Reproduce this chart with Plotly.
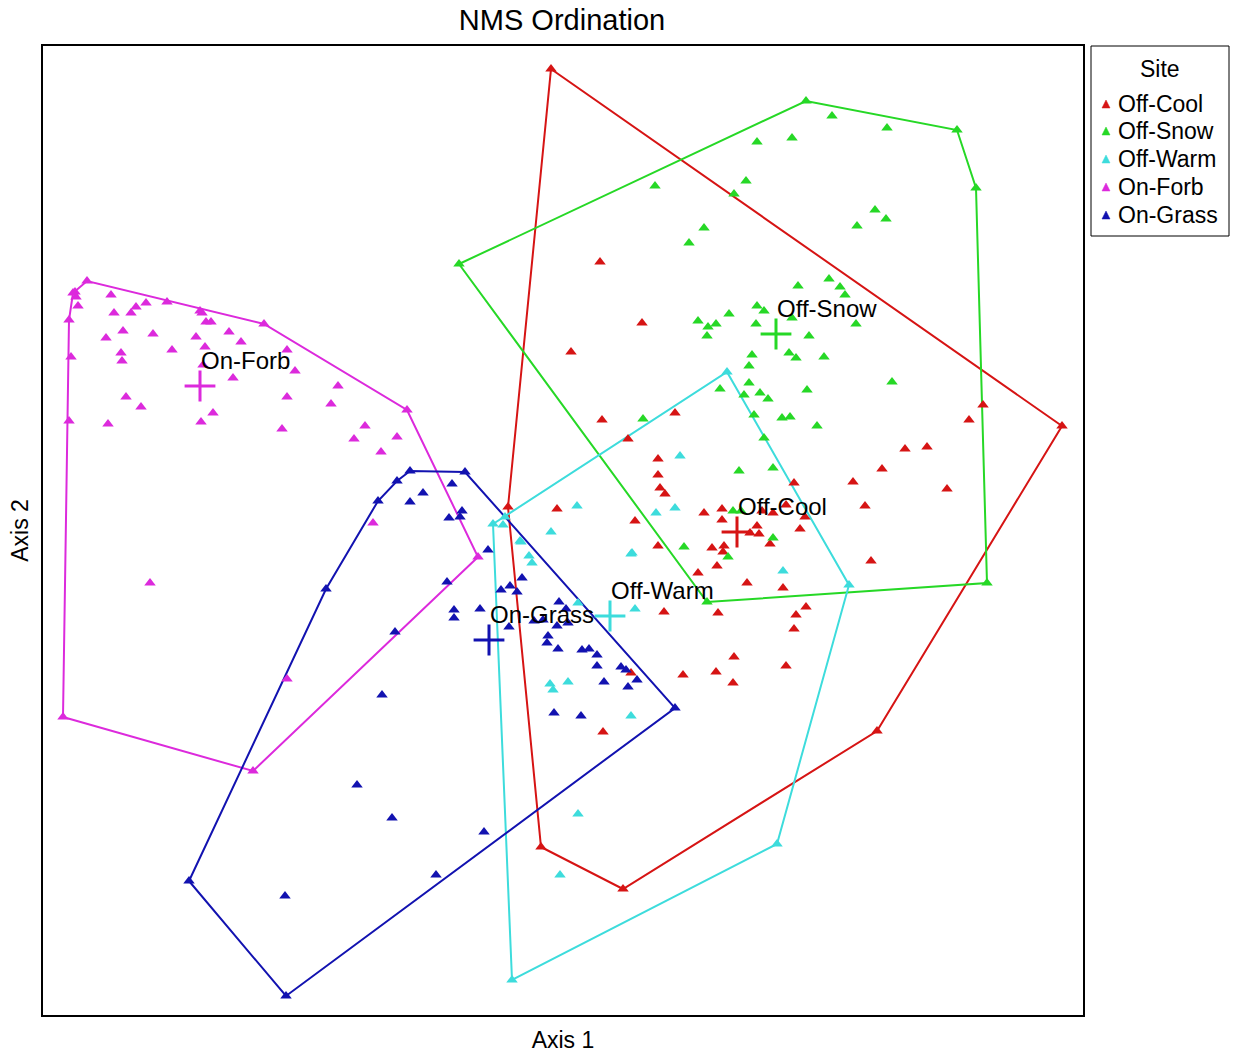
import plotly.graph_objects as go

# ---- data (Axis 1, Axis 2 scores) ----
sites = ["Off-Cool", "Off-Snow", "Off-Warm", "On-Forb", "On-Grass"]
colors = ["#d61414", "#26d826", "#3ddcdc", "#dc2adc", "#1212b0"]

off_cool_x = [551, 1062, 877, 623, 541, 508, 600, 642, 571, 602, 675, 628, 658, 658, 660, 665, 557, 635,
              704, 722, 722, 757, 759, 750, 762, 773, 786, 794, 805, 800, 770, 658, 712, 724, 723, 717,
              698, 747, 783, 983, 969, 905, 927, 882, 853, 947, 865, 871, 806, 718, 796, 794, 664, 734,
              786, 716, 733, 683, 631, 603]
off_cool_y = [69, 426, 731, 889, 847, 507, 262, 323, 352, 420, 413, 439, 459, 475, 488, 494, 509, 521,
              513, 509, 520, 526, 534, 533, 511, 513, 505, 483, 517, 529, 544, 546, 548, 546, 552, 566,
              573, 583, 588, 405, 420, 449, 447, 469, 482, 489, 506, 561, 607, 613, 615, 629, 612, 657,
              666, 672, 683, 675, 673, 732]

off_snow_x = [459, 806, 957, 976, 987, 707, 757, 792, 655, 746, 734, 704, 689, 832, 887, 875, 886, 857,
              798, 829, 840, 845, 856, 809, 792, 757, 764, 729, 698, 708, 716, 707, 756, 789, 752, 796,
              824, 749, 749, 760, 744, 768, 754, 782, 790, 764, 720, 892, 807, 817, 739, 773, 733, 741,
              773, 684, 728, 643]
off_snow_y = [264, 101, 130, 188, 583, 602, 142, 138, 186, 181, 194, 228, 243, 116, 128, 210, 219, 226,
              286, 279, 287, 295, 324, 336, 318, 306, 311, 314, 321, 327, 324, 336, 324, 353, 355, 358,
              357, 366, 383, 393, 395, 399, 415, 418, 417, 438, 389, 382, 390, 426, 471, 468, 511, 511,
              538, 547, 557, 419]

off_warm_x = [727, 849, 777, 512, 493, 505, 503, 680, 577, 675, 656, 551, 520, 521, 529, 532, 631, 632,
              578, 635, 550, 553, 568, 631, 783, 578, 560]
off_warm_y = [372, 585, 844, 980, 524, 517, 525, 456, 506, 508, 513, 532, 541, 542, 556, 563, 554, 553,
              603, 609, 684, 690, 682, 716, 571, 814, 875]

on_forb_x = [87, 75, 76, 78, 73, 69, 71, 69, 111, 114, 131, 136, 146, 167, 200, 202, 206, 211, 106, 123,
             153, 196, 229, 241, 264, 121, 122, 172, 205, 203, 287, 295, 233, 126, 141, 108, 213, 201,
             287, 282, 338, 331, 407, 365, 354, 397, 381, 373, 150, 478, 287, 63, 253]
on_forb_y = [281, 292, 297, 306, 293, 320, 357, 421, 295, 313, 313, 307, 303, 302, 311, 313, 322, 322, 338,
             331, 334, 337, 332, 342, 324, 353, 361, 350, 347, 365, 350, 371, 378, 397, 407, 424, 413,
             422, 397, 429, 386, 404, 410, 426, 439, 437, 452, 523, 583, 557, 679, 717, 771]

on_grass_x = [410, 465, 397, 452, 378, 423, 410, 462, 449, 460, 488, 326, 447, 395, 454, 454, 480, 382,
              501, 510, 517, 522, 509, 534, 543, 559, 566, 557, 568, 548, 547, 558, 582, 589, 597, 597,
              621, 626, 637, 628, 604, 554, 581, 675, 357, 392, 484, 436, 285, 189, 286]
on_grass_y = [471, 472, 481, 484, 501, 493, 502, 511, 518, 517, 550, 589, 582, 632, 610, 618, 609, 695,
              590, 586, 592, 578, 627, 621, 620, 602, 609, 626, 623, 636, 643, 649, 650, 649, 655, 666,
              667, 670, 680, 687, 682, 713, 716, 708, 785, 818, 832, 875, 896, 881, 996]

xs = [off_cool_x, off_snow_x, off_warm_x, on_forb_x, on_grass_x]
ys = [off_cool_y, off_snow_y, off_warm_y, on_forb_y, on_grass_y]

# group centroids
centroid_x = [737, 776, 610, 200, 489]
centroid_y = [532, 334, 616, 386, 640]


def convex_hull(px, py):
    pts = sorted(set(zip(px, py)))

    def cross(o, a, b):
        return (a[0] - o[0]) * (b[1] - o[1]) - (a[1] - o[1]) * (b[0] - o[0])

    lower, upper = [], []
    for p in pts:
        while len(lower) >= 2 and cross(lower[-2], lower[-1], p) <= 0:
            lower.pop()
        lower.append(p)
    for p in reversed(pts):
        while len(upper) >= 2 and cross(upper[-2], upper[-1], p) <= 0:
            upper.pop()
        upper.append(p)
    hull = lower[:-1] + upper[:-1]
    hull.append(hull[0])
    return [p[0] for p in hull], [p[1] for p in hull]


FONT = "Liberation Sans, Arial"
W, H = 1239, 1053
ML, MR, MT, MB = 43, 156, 46, 38
PW, PH = W - ML - MR, H - MT - MB


def px_to_paper(px, py):
    return (px - ML) / PW, (H - MB - py) / PH


fig = go.Figure()

# hulls
for name, col, x, y in zip(sites, colors, xs, ys):
    hx, hy = convex_hull(x, y)
    fig.add_trace(go.Scatter(x=hx, y=hy, mode="lines", line=dict(color=col, width=2),
                             showlegend=False, hoverinfo="skip"))

# points
for name, col, x, y in zip(sites, colors, xs, ys):
    fig.add_trace(go.Scatter(x=x, y=y, mode="markers", name=name, showlegend=False,
                             marker=dict(symbol="triangle-up", size=10, color=col, line=dict(width=0))))

# centroids
for name, col, cx, cy in zip(sites, colors, centroid_x, centroid_y):
    fig.add_trace(go.Scatter(x=[cx], y=[cy], mode="markers", showlegend=False,
                             marker=dict(symbol="cross-thin", size=22, color=col,
                                         line=dict(color=col, width=3))))
    fig.add_annotation(x=cx, y=cy, text=name, showarrow=False, xanchor="left", yanchor="middle",
                       yshift=26, xshift=-1, font=dict(size=24, color="black", family=FONT))

# ---- legend box (drawn in paper coordinates) ----
shapes = []
x0, y0 = px_to_paper(1091, 236)
x1, y1 = px_to_paper(1229, 46)
shapes.append(dict(type="rect", xref="paper", yref="paper", x0=x0, y0=y0, x1=x1, y1=y1,
                   line=dict(color="black", width=1), fillcolor="white", layer="above"))
tx, ty = px_to_paper(1160, 69)
fig.add_annotation(xref="paper", yref="paper", x=tx, y=ty, text="Site", showarrow=False,
                   xanchor="center", yanchor="middle", font=dict(size=23, family=FONT, color="black"))
entry_y = [104, 131, 159, 187, 215]
for name, col, ey in zip(sites, colors, entry_y):
    a = px_to_paper(1102, ey + 4)
    b = px_to_paper(1110, ey + 4)
    c = px_to_paper(1106, ey - 4)
    path = f"M {a[0]} {a[1]} L {b[0]} {b[1]} L {c[0]} {c[1]} Z"
    shapes.append(dict(type="path", xref="paper", yref="paper", path=path,
                       fillcolor=col, line=dict(color=col, width=0.5), layer="above"))
    lx, ly = px_to_paper(1116, ey)
    fig.add_annotation(xref="paper", yref="paper", x=lx, y=ly, text=name, showarrow=False,
                       xanchor="left", yanchor="middle", font=dict(size=23, family=FONT, color="black"))

fig.update_layout(
    width=W, height=H,
    margin=dict(l=ML, r=MR, t=MT, b=MB, autoexpand=False),
    paper_bgcolor="white", plot_bgcolor="white",
    font=dict(family=FONT, color="black"),
    showlegend=False,
    shapes=shapes,
    title=dict(text="NMS Ordination", x=(562 - ML) / PW * PW / W + ML / W, xanchor="center",
               y=1 - 20 / H, yanchor="middle", font=dict(size=29, color="black")),
)

fig.update_xaxes(range=[43, 1083], showgrid=False, zeroline=False, showticklabels=False, ticks="",
                 showline=True, linecolor="black", linewidth=2, mirror=True,
                 title=dict(text="Axis 1", font=dict(size=23), standoff=16))
fig.update_yaxes(range=[1015, 46], showgrid=False, zeroline=False, showticklabels=False, ticks="",
                 showline=True, linecolor="black", linewidth=2, mirror=True,
                 title=dict(text="Axis 2", font=dict(size=23), standoff=6))

fig.write_html("out.html")
